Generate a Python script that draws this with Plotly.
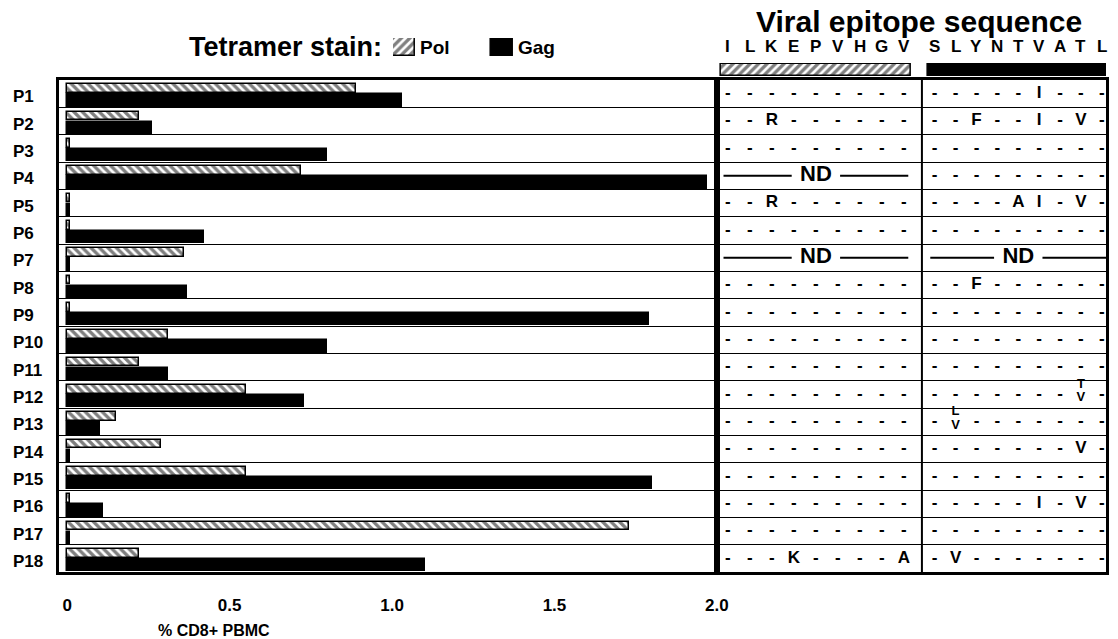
import re
import plotly.graph_objects as go

# ---------------- data ----------------
patients = [f"P{i}" for i in range(1, 19)]
pol_pct = [0.89, 0.22, 0.01, 0.72, 0.01, 0.01, 0.36, 0.01, 0.01,
           0.31, 0.22, 0.55, 0.15, 0.29, 0.55, 0.01, 1.73, 0.22]
gag_pct = [1.03, 0.26, 0.80, 1.97, 0.01, 0.42, 0.01, 0.37, 1.79,
           0.80, 0.31, 0.73, 0.10, 0.01, 1.80, 0.11, 0.01, 1.10]
x_ticks = [0, 0.5, 1.0, 1.5, 2.0]
x_ticktext = ["0", "0.5", "1.0", "1.5", "2.0"]
legend_items = ["Pol", "Gag"]

pol_ref = "ILKEPVHGV"
gag_ref = "SLYNTVATL"
# "-" = identical to reference, "[XY]" = mixture, "ND" = not done
pol_seq = ["---------", "--R------", "---------", "ND", "--R------", "---------",
           "ND", "---------", "---------", "---------", "---------", "---------",
           "---------", "---------", "---------", "---------", "---------", "---K----A"]
gag_seq = ["-----I---", "--F--I-V-", "---------", "---------", "----AI-V-", "---------",
           "ND", "--F------", "---------", "---------", "---------", "-------[TV]-",
           "-[LV]-------", "-------V-", "---------", "-----I-V-", "---------", "-V-------"]

# ---------------- layout constants ----------------
FONT = "Liberation Sans"
W, H = 1118, 639
S = 0.9885            # horizontal scale observed between page and picture
ML_T = 58             # target x of the frame's left edge
MT, MB = 0, 67
ML = ML_T / S
PLOT_W = W - ML
PLOT_H = H - MT - MB
TABLE_TOP = 80
COL_PX = 22.0         # target pixels per residue column
GAG_X0 = 9.4          # x2 position of the first Gag residue
GAG_STEP = 0.95       # x2 spacing of Gag residues
DIV_X = 8.82          # x2 position of the Pol/Gag divider
HATCH = dict(fgcolor="black", bgcolor="white", size=6, solidity=0.55)


def px_x(t):
    return (t / S - ML) / PLOT_W


def px_y(p):
    return (PLOT_H - (p - MT)) / PLOT_H


BAR_DOMAIN_END = px_x(716)
X2_MAX = -0.5 + (W * S - 716) / COL_PX

rows = list(range(len(patients)))


def tokens(s):
    return re.findall(r"\[[A-Z]+\]|.", s)


fig = go.Figure()

# bars
fig.add_trace(go.Bar(
    name="Pol", y=rows, x=pol_pct, orientation="h",
    offset=-0.34, width=0.31,
    marker=dict(color="white", line=dict(color="black", width=1.5),
                pattern=dict(shape="\\", **HATCH)),
    xaxis="x", yaxis="y", showlegend=False))
fig.add_trace(go.Bar(
    name="Gag", y=rows, x=gag_pct, orientation="h",
    offset=0.03, width=0.45,
    marker=dict(color="black", line=dict(color="black", width=1.5)),
    xaxis="x", yaxis="y", showlegend=False))

# legend swatches (drawn as bars on their own small axes)
fig.add_trace(go.Bar(
    x=[0], y=[1], width=[22 / 98], offset=-0.5,
    marker=dict(color="white", line=dict(color="black", width=1.5),
                pattern=dict(shape="/", **HATCH)),
    xaxis="x3", yaxis="y4", showlegend=False, hoverinfo="skip"))
fig.add_trace(go.Bar(
    x=[1], y=[1], width=[22 / 98], offset=-0.5,
    marker=dict(color="black", line=dict(color="black", width=1.5)),
    xaxis="x3", yaxis="y4", showlegend=False, hoverinfo="skip"))

# header bars under the reference sequences
fig.add_trace(go.Bar(
    y=[0], x=[len(pol_ref) - 1 + 0.6], base=[-0.3], orientation="h", width=0.9,
    marker=dict(color="white", line=dict(color="black", width=1.5),
                pattern=dict(shape="/", **HATCH)),
    xaxis="x2", yaxis="y3", showlegend=False, hoverinfo="skip"))
fig.add_trace(go.Bar(
    y=[0], x=[(len(gag_ref) - 1) * GAG_STEP + 0.6], base=[GAG_X0 - 0.3], orientation="h",
    width=0.9, marker=dict(color="black", line=dict(color="black", width=1.5)),
    xaxis="x2", yaxis="y3", showlegend=False, hoverinfo="skip"))

# sequence table
tx, ty, tt = [], [], []
sx, sy, st = [], [], []
nd_rows = []
sections = ((pol_seq, 0.0, 1.0), (gag_seq, GAG_X0, GAG_STEP))
for seqs, x0, step in sections:
    for r, s in zip(rows, seqs):
        if s == "ND":
            nd_rows.append((x0, step, r))
            continue
        for i, tok in enumerate(tokens(s)):
            if tok.startswith("["):
                a, b = tok[1], tok[2]
                sx += [x0 + i * step, x0 + i * step]
                sy += [r - 0.36, r + 0.14]
                st += [a, b]
            else:
                tx.append(x0 + i * step)
                ty.append(r)
                tt.append(tok)

fig.add_trace(go.Scatter(
    x=tx, y=ty, text=tt, mode="text", textposition="middle center",
    textfont=dict(family=FONT, size=17, color="black", weight="bold"),
    xaxis="x2", yaxis="y", showlegend=False, hoverinfo="skip"))
fig.add_trace(go.Scatter(
    x=sx, y=sy, text=st, mode="text", textposition="middle center",
    textfont=dict(family=FONT, size=13, color="black", weight="bold"),
    xaxis="x2", yaxis="y", showlegend=False, hoverinfo="skip"))

# ND rows
n = len(pol_ref)
lx, ly, ndx, ndy = [], [], [], []
for x0, step, r in nd_rows:
    last = x0 + (n - 1) * step
    mid = (x0 + last) / 2
    lx += [x0 - 0.2, mid - 1.1, None, mid + 1.1, last + 0.2, None]
    ly += [r, r, None, r, r, None]
    ndx.append(mid)
    ndy.append(r)
fig.add_trace(go.Scatter(
    x=lx, y=ly, mode="lines", line=dict(color="black", width=2),
    xaxis="x2", yaxis="y", showlegend=False, hoverinfo="skip"))
fig.add_trace(go.Scatter(
    x=ndx, y=ndy, text=["ND"] * len(ndx), mode="text",
    textfont=dict(family=FONT, size=22, color="black", weight="bold"),
    xaxis="x2", yaxis="y", showlegend=False, hoverinfo="skip"))

# annotations: row labels, header letters, titles
ann = []
for r, p in zip(rows, patients):
    ann.append(dict(x=px_x(10), xref="paper", xanchor="left",
                    y=r, yref="y", yanchor="middle", yshift=-3,
                    text=f"<b>{p}</b>", showarrow=False,
                    font=dict(family=FONT, size=17, color="black")))
for ref, x0, step in ((pol_ref, 0.0, 1.0), (gag_ref, GAG_X0, GAG_STEP)):
    for i, ch in enumerate(ref):
        ann.append(dict(x=x0 + i * step, xref="x2", xanchor="center", y=px_y(46),
                        yref="paper", yanchor="middle", text=f"<b>{ch}</b>",
                        showarrow=False, font=dict(family=FONT, size=17, color="black")))
ann.append(dict(x=px_x(918), xref="paper", xanchor="center", y=px_y(22), yref="paper",
                yanchor="middle", text="<b>Viral epitope sequence</b>", showarrow=False,
                font=dict(family=FONT, size=30, color="black")))
ann.append(dict(x=px_x(213), xref="paper", xanchor="center", y=px_y(630), yref="paper",
                yanchor="middle", text="<b>% CD8+ PBMC</b>", showarrow=False,
                font=dict(family=FONT, size=16, color="black")))
ann.append(dict(x=px_x(383), xref="paper", xanchor="right", y=px_y(47), yref="paper",
                yanchor="middle", text="<b>Tetramer stain:</b>", showarrow=False,
                font=dict(family=FONT, size=27, color="black")))
for i, name in enumerate(legend_items):
    ann.append(dict(x=i - 0.5 + 25 / 98, xref="x3", xanchor="left", y=px_y(47), yref="paper",
                    yanchor="middle", text=f"<b>{name}</b>", showarrow=False,
                    font=dict(family=FONT, size=19, color="black")))

shapes = [dict(type="line", xref="x2", x0=DIV_X, x1=DIV_X, yref="y domain", y0=0, y1=1,
               line=dict(color="black", width=2))]

fig.update_layout(
    width=W, height=H, autosize=False,
    margin=dict(l=ML, r=0, t=MT, b=MB, pad=0),
    paper_bgcolor="white", plot_bgcolor="white",
    font=dict(family=FONT, color="black"),
    barmode="overlay", bargap=0,
    showlegend=False,
    xaxis=dict(domain=[0, BAR_DOMAIN_END], range=[-0.025, 2.0], anchor="y",
               tickvals=x_ticks, ticktext=[f"<b>{t}</b>" for t in x_ticktext],
               tickfont=dict(family=FONT, size=17, color="black"),
               ticks="", ticklabelstandoff=16,
               showgrid=False, zeroline=False,
               showline=True, linecolor="black", linewidth=2.5, mirror=True),
    xaxis2=dict(domain=[BAR_DOMAIN_END, 1], range=[-0.5, X2_MAX], anchor="y",
                showticklabels=False, ticks="", showgrid=False, zeroline=False,
                showline=True, linecolor="black", linewidth=2.5, mirror=True),
    xaxis3=dict(domain=[px_x(392), px_x(392 + 2 * 98)], range=[-0.5, 1.5], anchor="y4",
                visible=False),
    yaxis=dict(domain=[0, px_y(TABLE_TOP)], range=[len(rows) - 0.5, -0.5], anchor="x",
               tickvals=[r + 0.5 for r in rows[:-1]], showticklabels=False, ticks="",
               showgrid=True, gridcolor="black", gridwidth=1, zeroline=False,
               showline=True, linecolor="black", linewidth=2.5, mirror="all"),
    yaxis3=dict(domain=[px_y(77), px_y(63)], range=[-0.5, 0.5], anchor="x2", visible=False),
    yaxis4=dict(domain=[px_y(56), px_y(38)], range=[0, 1], anchor="x3", visible=False),
    annotations=ann, shapes=shapes,
)

fig.write_html(
    "out.html",
    config={"displayModeBar": False},
    post_script=("document.documentElement.style.overflow='hidden';"
                 "document.body.style.overflow='hidden';"
                 "document.body.style.margin='0px';"),
)
